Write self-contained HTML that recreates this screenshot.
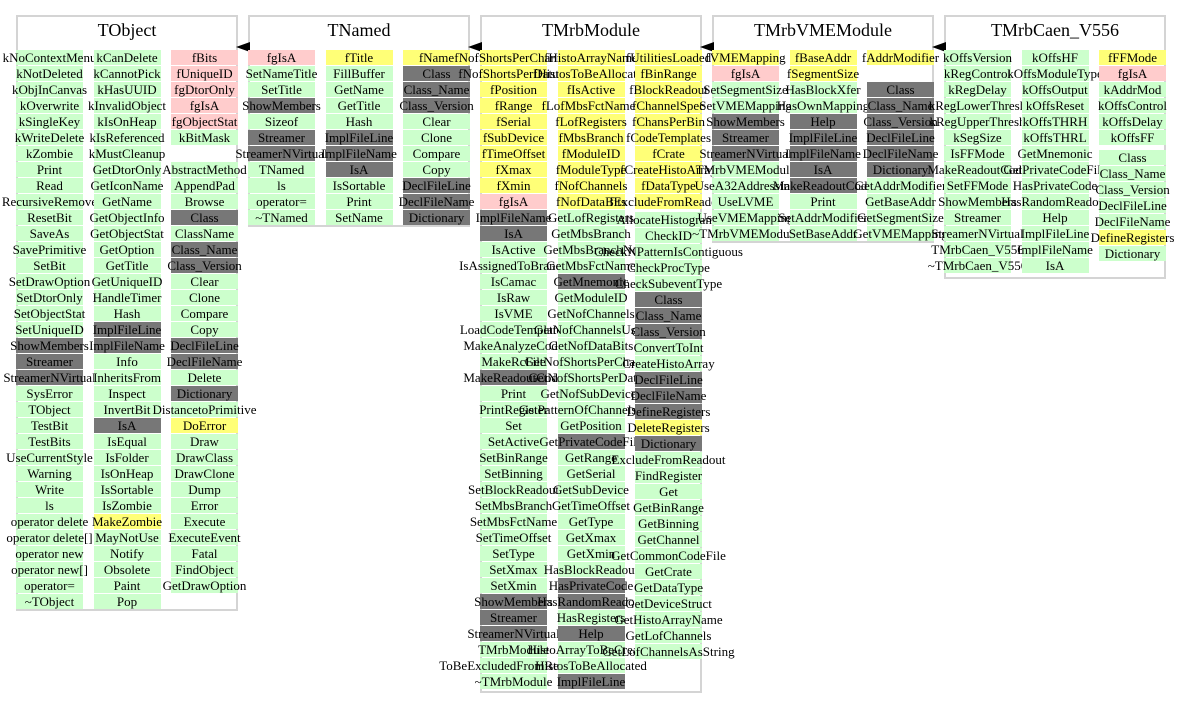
<!DOCTYPE html>
<html><head><meta charset="utf-8">
<style>
body{margin:0;background:#fff;width:1181px;height:704px;overflow:hidden;position:relative;font-family:"Liberation Serif",serif;}
.box{position:absolute;border:2px solid #d4d4d4;border-bottom-width:2px;box-sizing:border-box;}
.title{position:absolute;font-size:18px;text-align:center;line-height:24px;}
.cell{position:absolute;height:15px;line-height:15px;font-size:13px;text-align:center;white-space:nowrap;overflow:visible;display:flex;justify-content:center;}
.cell span{display:block;}
.arrow{position:absolute;width:0;height:0;border-top:5px solid transparent;border-bottom:5px solid transparent;border-right:14px solid #000;}
</style></head><body>
<script>
// '#' gray, '!' pink, '*' yellow, '_' empty, none = green
const classNames=["TObject","TNamed","TMrbModule","TMrbVMEModule","TMrbCaen_V556"];
const TObjectCols=[
["kNoContextMenu","kNotDeleted","kObjInCanvas","kOverwrite","kSingleKey","kWriteDelete","kZombie","Print","Read","RecursiveRemove","ResetBit","SaveAs","SavePrimitive","SetBit","SetDrawOption","SetDtorOnly","SetObjectStat","SetUniqueID","#ShowMembers","#Streamer","#StreamerNVirtual","SysError","TObject","TestBit","TestBits","UseCurrentStyle","Warning","Write","ls","operator delete","operator delete[]","operator new","operator new[]","operator=","~TObject"],
["kCanDelete","kCannotPick","kHasUUID","kInvalidObject","kIsOnHeap","kIsReferenced","kMustCleanup","GetDtorOnly","GetIconName","GetName","GetObjectInfo","GetObjectStat","GetOption","GetTitle","GetUniqueID","HandleTimer","Hash","#ImplFileLine","#ImplFileName","Info","InheritsFrom","Inspect","InvertBit","#IsA","IsEqual","IsFolder","IsOnHeap","IsSortable","IsZombie","*MakeZombie","MayNotUse","Notify","Obsolete","Paint","Pop"],
["!fBits","!fUniqueID","!fgDtorOnly","!fgIsA","!fgObjectStat","kBitMask","_","AbstractMethod","AppendPad","Browse","#Class","ClassName","#Class_Name","#Class_Version","Clear","Clone","Compare","Copy","#DeclFileLine","#DeclFileName","Delete","#Dictionary","DistancetoPrimitive","*DoError","Draw","DrawClass","DrawClone","Dump","Error","Execute","ExecuteEvent","Fatal","FindObject","GetDrawOption"]];
const TNamedCols=[
["!fgIsA","SetNameTitle","SetTitle","#ShowMembers","Sizeof","#Streamer","#StreamerNVirtual","TNamed","ls","operator=","~TNamed"],
["*fTitle","FillBuffer","GetName","GetTitle","Hash","#ImplFileLine","#ImplFileName","#IsA","IsSortable","Print","SetName"],
["*fName","#Class","#Class_Name","#Class_Version","Clear","Clone","Compare","Copy","#DeclFileLine","#DeclFileName","#Dictionary"]];
const TMrbModuleCols=[
["*fNofShortsPerChannel","*fNofShortsPerDatum","*fPosition","*fRange","*fSerial","*fSubDevice","*fTimeOffset","*fXmax","*fXmin","!fgIsA","#ImplFileName","#IsA","IsActive","IsAssignedToBranch","IsCamac","IsRaw","IsVME","LoadCodeTemplates","MakeAnalyzeCode","MakeRcFile","#MakeReadoutCode","Print","PrintRegister","Set","SetActive","SetBinRange","SetBinning","SetBlockReadout","SetMbsBranch","SetMbsFctName","SetTimeOffset","SetType","SetXmax","SetXmin","#ShowMembers","#Streamer","#StreamerNVirtual","TMrbModule","ToBeExcludedFromReadout","~TMrbModule"],
["*fHistoArrayName","*fHistosToBeAllocated","*fIsActive","*fLofMbsFctNames","*fLofRegisters","*fMbsBranch","*fModuleID","*fModuleType","*fNofChannels","*fNofDataBits","GetLofRegisters","GetMbsBranch","GetMbsBranchNo","GetMbsFctName","#GetMnemonic","GetModuleID","GetNofChannels","GetNofChannelsUsed","GetNofDataBits","GetNofShortsPerChannel","GetNofShortsPerDatum","GetNofSubDevices","GetPatternOfChannelsUsed","GetPosition","#GetPrivateCodeFile","GetRange","GetSerial","GetSubDevice","GetTimeOffset","GetType","GetXmax","GetXmin","HasBlockReadout","#HasPrivateCode","#HasRandomReadout","HasRegisters","#Help","HistoArrayToBeCreated","HistosToBeAllocated","#ImplFileLine"],
["*fUtilitiesLoaded","*fBinRange","*fBlockReadout","*fChannelSpec","*fChansPerBin","*fCodeTemplates","*fCrate","*fCreateHistoArray","*fDataType","*fExcludeFromReadout","AllocateHistograms","CheckID","CheckNPatternIsContiguous","CheckProcType","CheckSubeventType","#Class","#Class_Name","#Class_Version","ConvertToInt","CreateHistoArray","#DeclFileLine","#DeclFileName","#DefineRegisters","*DeleteRegisters","#Dictionary","ExcludeFromReadout","FindRegister","Get","GetBinRange","GetBinning","GetChannel","GetCommonCodeFile","GetCrate","GetDataType","GetDeviceStruct","GetHistoArrayName","GetLofChannels","GetLofChannelsAsString"]];
const TMrbVMEModuleCols=[
["*fVMEMapping","!fgIsA","SetSegmentSize","SetVMEMapping","#ShowMembers","#Streamer","#StreamerNVirtual","TMrbVMEModule","UseA32Addressing","UseLVME","UseVMEMapping","~TMrbVMEModule"],
["*fBaseAddr","*fSegmentSize","HasBlockXfer","HasOwnMapping","#Help","#ImplFileLine","#ImplFileName","#IsA","#MakeReadoutCode","Print","SetAddrModifier","SetBaseAddr"],
["*fAddrModifier","_","#Class","#Class_Name","#Class_Version","#DeclFileLine","#DeclFileName","#Dictionary","GetAddrModifier","GetBaseAddr","GetSegmentSize","GetVMEMapping"]];
const TMrbCaenCols=[
["kOffsVersion","kRegControl","kRegDelay","kRegLowerThresh","kRegUpperThresh","kSegSize","IsFFMode","MakeReadoutCode","SetFFMode","ShowMembers","Streamer","StreamerNVirtual","TMrbCaen_V556","~TMrbCaen_V556"],
["kOffsHF","kOffsModuleType","kOffsOutput","kOffsReset","kOffsTHRH","kOffsTHRL","GetMnemonic","GetPrivateCodeFile","HasPrivateCode","HasRandomReadout","Help","ImplFileLine","ImplFileName","IsA"],
["*fFFMode","!fgIsA","kAddrMod","kOffsControl","kOffsDelay","kOffsFF","Class","Class_Name","Class_Version","DeclFileLine","DeclFileName","*DefineRegisters","Dictionary"]];
const allCols=[TObjectCols,TNamedCols,TMrbModuleCols,TMrbVMEModuleCols,TMrbCaenCols];
// row index after which a column is shifted down, and shift
const shifts={"2-2":[10,2],"4-2":[6,4]};
const colors={"#":"#777777","!":"#ffcccc","*":"#ffff77","":"#ccffcc"};

allCols.forEach((cols,k)=>{
  const x0=16+232*k;
  let maxRows=Math.max(...cols.map(c=>c.length));
  let extra=0; Object.keys(shifts).forEach(s=>{if(+s[0]===k)extra=shifts[s][1];});
  const box=document.createElement('div');
  box.className='box';
  
  
  box.style.left=x0+'px';box.style.top='15px';box.style.width='222px';
  box.style.height=(50+16*maxRows+extra-15+1)+'px';
  document.body.appendChild(box);
  const t=document.createElement('div');
  t.className='title';
  
  
  t.textContent=classNames[k];
  t.style.left=x0+'px';t.style.top='18px';t.style.width='222px';
  document.body.appendChild(t);
  if(k>0){
    const a=document.createElement('div');
    a.className='arrow';
    
    
    a.style.left=(x0-12)+'px';a.style.top='42px';
    document.body.appendChild(a);
  }
  cols.forEach((items,c)=>{
    const sh=shifts[k+'-'+c];
    items.forEach((raw,i)=>{
      let p=raw[0], txt=raw;
      if(p==='#'||p==='!'||p==='*'||p==='_'){txt=raw.slice(1);}else p='';
      if(p==='_')return;
      const d=document.createElement('div');
      d.className='cell';
      
      
      const y=50+16*i+(sh&&i>=sh[0]?sh[1]:0);
      d.style.left=(x0+c*77.5)+'px';d.style.top=y+'px';d.style.width='67px';
      d.style.background=colors[p];
      const s=document.createElement('span');s.textContent=txt;
      d.appendChild(s);
      document.body.appendChild(d);
    });
  });
});
</script>
</body></html>
